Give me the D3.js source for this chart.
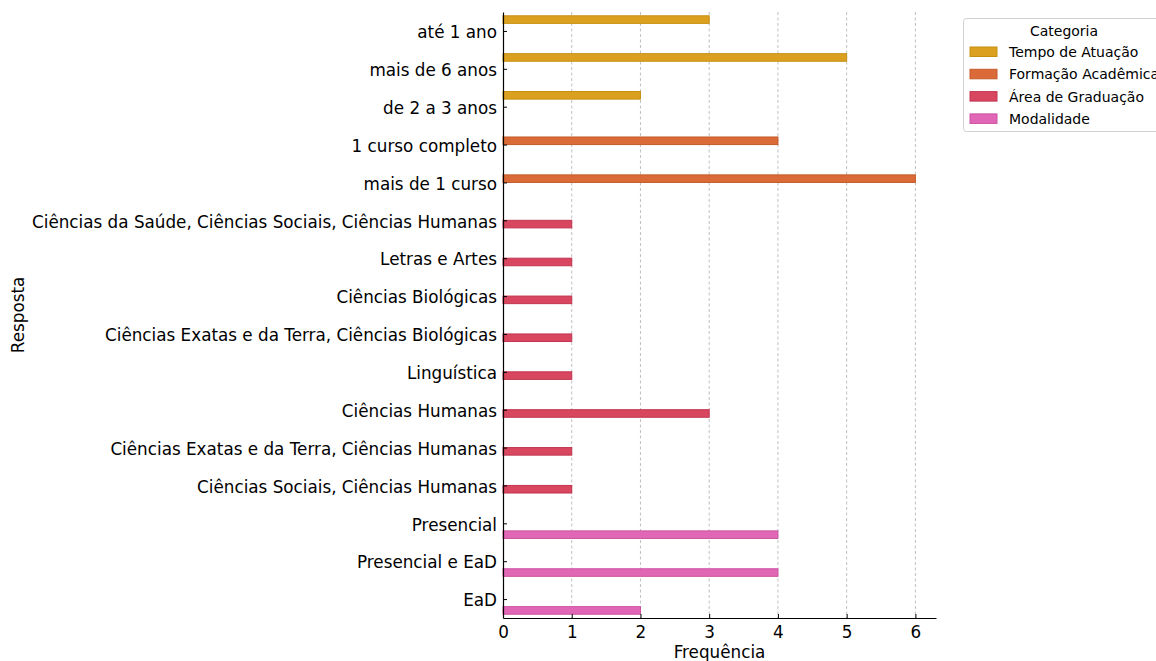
<!DOCTYPE html>
<html>
<head>
<meta charset="utf-8">
<script src="https://cdn.jsdelivr.net/npm/d3@7"></script>
<style>
  html, body { margin: 0; padding: 0; background: #fff; }
  svg { display: block; font-family: "DejaVu Sans", sans-serif; }
</style>
</head>
<body>
<svg id="chart" width="1156" height="661"></svg>
<script>
// ---- data ----
const categories = [
  "até 1 ano", "mais de 6 anos", "de 2 a 3 anos",
  "1 curso completo", "mais de 1 curso",
  "Ciências da Saúde, Ciências Sociais, Ciências Humanas", "Letras e Artes",
  "Ciências Biológicas", "Ciências Exatas e da Terra, Ciências Biológicas",
  "Linguística", "Ciências Humanas", "Ciências Exatas e da Terra, Ciências Humanas",
  "Ciências Sociais, Ciências Humanas",
  "Presencial", "Presencial e EaD", "EaD"
];
const groups = ["Tempo de Atuação", "Formação Acadêmica", "Área de Graduação", "Modalidade"];
const groupOf = [0,0,0, 1,1, 2,2,2,2,2,2,2,2, 3,3,3];
const values = [3,5,2, 4,6, 1,1,1,1,1,3,1,1, 4,4,2];
const xTicks = [0,1,2,3,4,5,6];
const colors = ["#DCA020", "#DA6B38", "#D8475F", "#E166B6"];
const edges  = ["#C68F10", "#C45A28", "#C23550", "#CC52A2"];

// ---- layout ----
const svg = d3.select("#chart");
const mLeft = 503, mRight = 936, mTop = 12, mBottom = 618;

const x = d3.scaleLinear().domain([0, 6.3]).range([mLeft, mRight]);
const y = d3.scalePoint().domain(categories).range([mTop, mBottom]).padding(0.5);
const step = y.step();
const hue = d3.scaleBand().domain(groups).range([-0.4 * step, 0.4 * step]);

// grid
svg.append("g").selectAll("line").data(xTicks.filter(d => d > 0)).join("line")
  .attr("x1", d => x(d)).attr("x2", d => x(d))
  .attr("y1", mTop).attr("y2", mBottom)
  .attr("stroke", "#b0b0b0").attr("stroke-width", 0.8)
  .attr("stroke-dasharray", "3,2.5");

// bars
const data = categories.map((c, i) => ({ c, g: groupOf[i], v: values[i] }));
svg.append("g").selectAll("rect").data(data).join("rect")
  .attr("x", x(0))
  .attr("y", d => y(d.c) + hue(groups[d.g]))
  .attr("width", d => x(d.v) - x(0))
  .attr("height", hue.bandwidth())
  .attr("fill", d => colors[d.g])
  .attr("stroke", d => edges[d.g])
  .attr("stroke-width", 1);

// x axis
const xAxis = d3.axisBottom(x).tickValues(xTicks).tickFormat(d3.format("d"))
  .tickSizeInner(-4).tickSizeOuter(0).tickPadding(8);
const gx = svg.append("g").attr("transform", `translate(0,${mBottom})`).call(xAxis);
gx.select(".domain").attr("stroke", "#000").attr("stroke-width", 1.2);
gx.selectAll(".tick line").attr("stroke", "#000");
gx.selectAll("text").attr("font-size", 16.8).attr("fill", "#000").attr("font-family", "DejaVu Sans").attr("dy", "0.72em");

// y axis
const yAxis = d3.axisLeft(y).tickSizeInner(-4).tickSizeOuter(0).tickPadding(6);
const gy = svg.append("g").attr("transform", `translate(${mLeft},0)`).call(yAxis);
gy.select(".domain").attr("stroke", "#000").attr("stroke-width", 1.2);
gy.selectAll(".tick line").attr("stroke", "#000");
gy.selectAll("text").attr("font-size", 16.8).attr("fill", "#000").attr("font-family", "DejaVu Sans").attr("dy", "0.4em");

// axis labels
svg.append("text").attr("x", (mLeft + mRight) / 2).attr("y", 658)
  .attr("text-anchor", "middle").attr("font-size", 16.8).text("Frequência");
svg.append("text").attr("transform", `translate(24,${(mTop + mBottom) / 2}) rotate(-90)`)
  .attr("text-anchor", "middle").attr("font-size", 16.8).text("Resposta");

// legend
const lg = svg.append("g");
lg.append("rect").attr("x", 963.5).attr("y", 18.5).attr("width", 205).attr("height", 113)
  .attr("fill", "#fff").attr("stroke", "#d0d0d0").attr("rx", 3);
lg.append("text").attr("x", 1064).attr("y", 36).attr("text-anchor", "middle")
  .attr("font-size", 14).text("Categoria");
groups.forEach((g, i) => {
  const yy = 52 + i * 22.3;
  lg.append("rect").attr("x", 970).attr("y", yy - 5).attr("width", 27).attr("height", 9.5)
    .attr("fill", colors[i]).attr("stroke", edges[i]);
  lg.append("text").attr("x", 1009).attr("y", yy + 5).attr("font-size", 14).text(g);
});
</script>
</body>
</html>
